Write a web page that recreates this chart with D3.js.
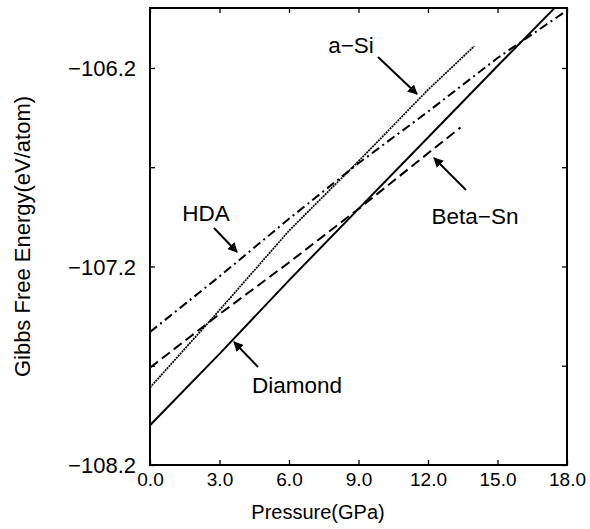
<!DOCTYPE html>
<html>
<head>
<meta charset="utf-8">
<script src="https://cdn.jsdelivr.net/npm/d3@7"></script>
<style>
  body { margin: 0; background: #fff; }
  text { font-family: "Liberation Sans", Arial, Helvetica, sans-serif; fill: #000; }
</style>
</head>
<body>
<div id="chart"></div>
<script>
var svgWidth = 590;
var svgHeight = 529;

var margin = { top: 8, right: 23, bottom: 64, left: 150 };
var width = svgWidth - margin.left - margin.right;
var height = svgHeight - margin.top - margin.bottom;

// data (pressure in GPa, energy in eV/atom)
var diamondP = [0, 3, 6, 9, 12, 15, 17.45];
var diamondE = [-108.0, -107.64, -107.27, -106.91, -106.55, -106.19, -105.9];

var asiP = [0, 3, 6, 9, 12, 14];
var asiE = [-107.81, -107.42, -107.02, -106.67, -106.31, -106.09];

var hdaP = [0, 3, 6, 9, 12, 15, 18];
var hdaE = [-107.53, -107.25, -106.96, -106.68, -106.42, -106.15, -105.91];

var betaP = [0, 3, 6, 9, 12, 13.4];
var betaE = [-107.71, -107.44, -107.18, -106.91, -106.63, -106.5];

var xTicks = [0, 3, 6, 9, 12, 15, 18];
var yTicksMajor = [-108.2, -107.2, -106.2];
var yTicksMinor = [-107.7, -106.7];

var svg = d3.select("#chart")
  .append("svg")
  .attr("width", svgWidth)
  .attr("height", svgHeight);

svg.append("defs").append("marker")
  .attr("id", "arrow")
  .attr("viewBox", "0 0 10 10")
  .attr("refX", 9)
  .attr("refY", 5)
  .attr("markerWidth", 5)
  .attr("markerHeight", 5)
  .attr("markerUnits", "strokeWidth")
  .attr("orient", "auto")
  .append("path")
  .attr("d", "M0,0 L10,5 L0,10 z")
  .attr("fill", "#000");

var chartGroup = svg.append("g")
  .attr("transform", `translate(${margin.left}, ${margin.top})`);

var xScale = d3.scaleLinear().domain([0, 18]).range([0, width]);
var yScale = d3.scaleLinear().domain([-108.2, -105.898]).range([height, 0]);

chartGroup.append("clipPath")
  .attr("id", "clip")
  .append("rect")
  .attr("width", width)
  .attr("height", height);

// ticks pointing inward on all four sides
var fmtX = d3.format(".1f");
var fmtY = function(d) { return d3.format(".1f")(d).replace("-", "\u2212"); };

var bottomAxis = d3.axisBottom(xScale).tickValues(xTicks).tickSize(-5).tickPadding(8).tickFormat(fmtX);
var topAxis = d3.axisTop(xScale).tickValues(xTicks).tickSize(-5).tickFormat("");
var leftAxis = d3.axisLeft(yScale).tickValues(yTicksMajor.concat(yTicksMinor)).tickSize(-5).tickPadding(14)
  .tickFormat(d => yTicksMajor.indexOf(d) >= 0 ? fmtY(d) : "");
var rightAxis = d3.axisRight(yScale).tickValues(yTicksMajor.concat(yTicksMinor)).tickSize(-5).tickFormat("");

var xAxis = chartGroup.append("g")
  .attr("transform", `translate(0, ${height})`)
  .call(bottomAxis);
xAxis.selectAll("text").style("font-size", "19px").attr("dy", "0.71em");

chartGroup.append("g").call(topAxis);

var yAxis = chartGroup.append("g").call(leftAxis);
yAxis.selectAll("text").style("font-size", "22px").attr("dy", "0.36em");

chartGroup.append("g")
  .attr("transform", `translate(${width}, 0)`)
  .call(rightAxis);

chartGroup.selectAll(".domain").remove();
chartGroup.selectAll(".tick line").attr("stroke", "#000").attr("stroke-width", 1.3);

// frame
chartGroup.append("rect")
  .attr("width", width)
  .attr("height", height)
  .attr("fill", "none")
  .attr("stroke", "#000")
  .attr("stroke-width", 2);

// curves
var line = d3.line()
  .x(d => xScale(d[0]))
  .y(d => yScale(d[1]));

var series = [
  { p: diamondP, e: diamondE, dash: null, w: 2 },
  { p: asiP, e: asiE, dash: "2,0.8", w: 1.7 },
  { p: hdaP, e: hdaE, dash: "9,4,2,4", w: 2 },
  { p: betaP, e: betaE, dash: "10,5", w: 2 }
];

chartGroup.append("g")
  .attr("clip-path", "url(#clip)")
  .selectAll("path")
  .data(series)
  .enter()
  .append("path")
  .attr("d", s => line(s.p.map((v, i) => [v, s.e[i]])))
  .attr("fill", "none")
  .attr("stroke", "#000")
  .attr("stroke-width", s => s.w)
  .attr("stroke-dasharray", s => s.dash);

// labels with arrows (page coordinates)
var notes = [
  { text: "a\u2212Si", tx: 351, ty: 53, x1: 378, y1: 57, x2: 417, y2: 94 },
  { text: "HDA", tx: 206, ty: 221, x1: 214, y1: 228, x2: 237, y2: 252 },
  { text: "Beta\u2212Sn", tx: 475, ty: 224, x1: 466, y1: 190, x2: 434, y2: 158 },
  { text: "Diamond", tx: 297, ty: 393, x1: 258, y1: 367, x2: 234, y2: 342 }
];

var noteGroup = svg.append("g");

noteGroup.selectAll("text")
  .data(notes)
  .enter()
  .append("text")
  .attr("x", d => d.tx)
  .attr("y", d => d.ty)
  .attr("text-anchor", "middle")
  .style("font-size", "22.5px")
  .text(d => d.text);

noteGroup.selectAll("line")
  .data(notes)
  .enter()
  .append("line")
  .attr("x1", d => d.x1)
  .attr("y1", d => d.y1)
  .attr("x2", d => d.x2)
  .attr("y2", d => d.y2)
  .attr("stroke", "#000")
  .attr("stroke-width", 2)
  .attr("marker-end", "url(#arrow)");

// axis titles
svg.append("text")
  .attr("x", 318)
  .attr("y", 519)
  .attr("text-anchor", "middle")
  .style("font-size", "20px")
  .text("Pressure(GPa)");

svg.append("text")
  .attr("transform", `translate(30, ${margin.top + height / 2}) rotate(-90)`)
  .attr("text-anchor", "middle")
  .style("font-size", "22px")
  .text("Gibbs Free Energy(eV/atom)");
</script>
</body>
</html>
